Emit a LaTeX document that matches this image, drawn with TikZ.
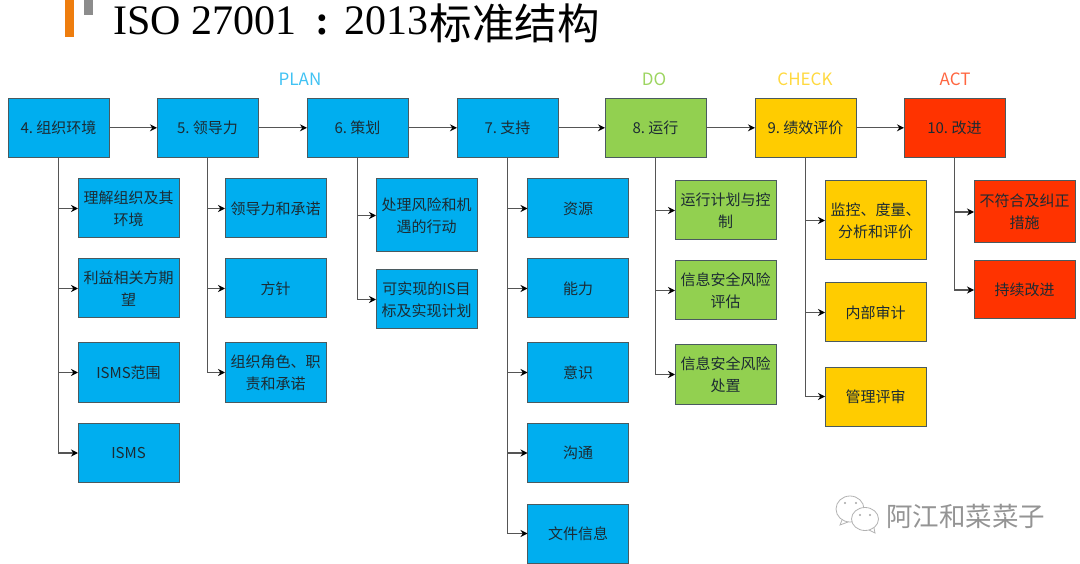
\documentclass[tikz,border=0pt]{standalone}
\usepackage{fontspec}
\setmainfont{Liberation Serif}
\newfontfamily\cjk{Noto Sans CJK SC}
\usetikzlibrary{arrows.meta}
\definecolor{cblue}{HTML}{00AEEF}
\definecolor{cgreen}{HTML}{92D050}
\definecolor{cyellow}{HTML}{FFCC00}
\definecolor{cred}{HTML}{FF3300}
\definecolor{cedge}{HTML}{4A5A5F}
\definecolor{cline}{HTML}{555555}
\definecolor{ctext}{HTML}{1C2B33}
\definecolor{corange}{HTML}{EE7D0E}
\newcommand{\numgap}{\hspace{3.5pt}}
\tikzset{
  box/.style={draw=cedge,line width=1pt,outer sep=0pt,inner sep=1pt,minimum width=101pt,minimum height=59pt,
    text width=97pt,align=center,text=ctext,font=\cjk\fontsize{15}{22}\selectfont},
  bluebox/.style={box,fill=cblue},
  greenbox/.style={box,fill=cgreen},
  yellowbox/.style={box,fill=cyellow},
  redbox/.style={box,fill=cred},
  phase/.style={font=\cjk\fontsize{17}{20}\selectfont,inner sep=0pt},
  flow/.style={draw=cline,line width=1.3pt,-{Stealth[length=7pt,width=7pt,color=black]}},
  branch/.style={draw=cline,line width=1.2pt,-{Stealth[length=7pt,width=7pt,color=black]}},
}
\begin{document}
\begin{tikzpicture}[x=1pt,y=-1pt]
\useasboundingbox (0,0) rectangle (1080,564);
% title
\fill[corange] (65,0) rectangle (74,37);
\fill[black!45] (84,0) rectangle (93,15);
\node[anchor=base west,inner sep=0pt,font=\fontsize{42}{44}\selectfont] (title) at (113,35)
  {ISO 27001\hspace{19pt}\textbf{:}\hspace{15pt}2013\hspace{1.5pt}\raisebox{-4.5pt}{\cjk\fontsize{42.5}{44}\selectfont 标准结构}};
% phases
\node[phase,text=cblue!75] (plan) at (300,79) {PLAN};
\node[phase,text=cgreen!90] (do) at (654,79) {DO};
\node[phase,text=cyellow!75] (check) at (805,79) {CHECK};
\node[phase,text=cred!75] (act) at (955,79) {ACT};
% main row
\node[bluebox] (m4) at (58.5,127.8) {4.\numgap 组织环境};
\node[bluebox] (m5) at (207.5,127.8) {5.\numgap 领导力};
\node[bluebox] (m6) at (357.5,127.8) {6.\numgap 策划};
\node[bluebox] (m7) at (507.5,127.8) {7.\numgap 支持};
\node[greenbox] (m8) at (655.5,127.8) {8.\numgap 运行};
\node[yellowbox] (m9) at (805.5,127.8) {9.\numgap 绩效评价};
\node[redbox] (m10) at (954.5,127.8) {10.\numgap 改进};
\foreach \a/\b in {m4/m5,m5/m6,m6/m7,m7/m8,m8/m9,m9/m10}
  \draw[flow] (\a) -- (\b);
% column 4
\node[bluebox] (a1) at (128.5,208.5) {理解组织及其\\环境};
\node[bluebox] (a2) at (128.5,288.5) {利益相关方期\\望};
\node[bluebox] (a3) at (128.5,372.5) {ISMS范围};
\node[bluebox] (a4) at (128.5,453) {ISMS};
% column 5
\node[bluebox] (b1) at (275.5,208.5) {领导力和承诺};
\node[bluebox] (b2) at (275.5,288.5) {方针};
\node[bluebox] (b3) at (275.5,372.5) {组织角色、职\\责和承诺};
% column 6
\node[bluebox,minimum height=73pt] (c1) at (426.5,215.5) {处理风险和机\\遇的行动};
\node[bluebox] (c2) at (426.5,299.5) {可实现的IS目\\标及实现计划};
% column 7
\node[bluebox] (d1) at (578,208.5) {资源};
\node[bluebox] (d2) at (578,288.5) {能力};
\node[bluebox] (d3) at (578,372.5) {意识};
\node[bluebox] (d4) at (578,453) {沟通};
\node[bluebox] (d5) at (578,533.5) {文件信息};
% column 8
\node[greenbox] (e1) at (725.5,210.5) {运行计划与控\\制};
\node[greenbox] (e2) at (725.5,290.5) {信息安全风险\\评估};
\node[greenbox] (e3) at (725.5,374.5) {信息安全风险\\处置};
% column 9
\node[yellowbox,minimum height=79pt] (f1) at (875.5,220.5) {监控、度量、\\分析和评价};
\node[yellowbox] (f2) at (875.5,312.5) {内部审计};
\node[yellowbox] (f3) at (875.5,396.5) {管理评审};
% column 10
\node[redbox,minimum height=62pt] (g1) at (1024.5,212) {不符合及纠正\\措施};
\node[redbox,minimum height=58pt] (g2) at (1024.5,290) {持续改进};
% connectors
\foreach \p/\c in {m4/a1,m4/a2,m4/a3,m4/a4,m5/b1,m5/b2,m5/b3,m6/c1,m6/c2,
  m7/d1,m7/d2,m7/d3,m7/d4,m7/d5,m8/e1,m8/e2,m8/e3,m9/f1,m9/f2,m9/f3,m10/g1,m10/g2}
  \draw[branch] (\p.south) |- (\c.west);
% watermark
\begin{scope}[draw=black!30,line width=0.8pt,fill=white]
  \filldraw (850,509) ellipse (14pt and 13pt);
  \draw (842,520) -- (840,525) -- (848,522);
  \filldraw (865,519) ellipse (13.5pt and 11.5pt);
  \draw (869,530) -- (875,533) -- (874,528);
  \fill[black!35] (845,503) circle (1.2pt) (856,503) circle (1.2pt) (860,515) circle (1.2pt) (870,515) circle (1.2pt);
\end{scope}
\node[anchor=west,inner sep=0pt,text=black!42,font=\cjk\fontsize{26.5}{28}\selectfont] (wm) at (886,516) {阿江和菜菜子};
\end{tikzpicture}
\end{document}
